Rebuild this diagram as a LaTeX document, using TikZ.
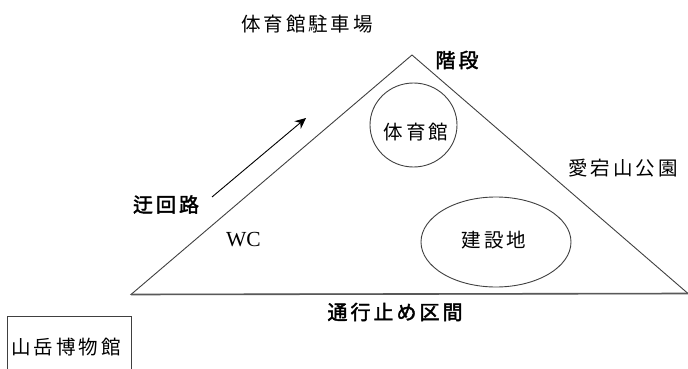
\documentclass[tikz,border=0pt]{standalone}
\usepackage{fontspec}
\usetikzlibrary{shapes.geometric,arrows.meta}
\setmainfont{Liberation Serif}
\newfontfamily\cjk{Noto Sans CJK JP}[LetterSpace=15]
\newfontfamily\cjkb{Noto Sans CJK JP}[FakeBold=2,LetterSpace=15]
\tikzset{
 px/.style={x=1pt,y=-1pt},
 line/.style={draw=black!75,line width=0.9pt},
 lab/.style={inner sep=0pt,font=\cjk\fontsize{19.5}{22}\selectfont},
 blab/.style={inner sep=0pt,font=\cjkb\fontsize{20}{23}\selectfont}
}
\begin{document}
\begin{tikzpicture}[px]
\useasboundingbox (0,0) rectangle (688,369);
\coordinate (apex) at (412,55);
\coordinate (bl) at (131,294.5);
\coordinate (br) at (688,293.5);
\draw[line] (bl) -- (apex) -- (br) -- cycle;
\draw[draw=black!65,line width=1.6pt] (bl) -- (br);
\node[line,ellipse,minimum width=87pt,minimum height=84pt,inner sep=0pt] (gym) at (413.5,125) {};
\node[lab] (gymt) at (416,132) {体育館};
\node[line,ellipse,minimum width=150pt,minimum height=90pt,inner sep=0pt] (site) at (496,242) {};
\node[lab] (sitet) at (494,240) {建設地};
\coordinate (a1) at (212,197);
\coordinate (a2) at (306,118);
\draw[draw=black,line width=0.9pt,-{Stealth[length=11pt,width=10pt]}] (a1) -- (a2);
\node[lab] (p) at (307,24.5) {体育館駐車場};
\node[blab] (k) at (457,60) {階段};
\node[lab] (a) at (623,168) {愛宕山公園};
\node[blab] (u) at (166,204.5) {迂回路};
\node[inner sep=0pt,font=\fontsize{21.5}{22}\selectfont] (wc) at (243.5,240) {WC};
\node[blab] (t) at (395,312) {通行止め区間};
\node[line,inner sep=0pt,minimum width=124pt,minimum height=62pt] (m) at (69.5,347) {};
\node[lab] (mt) at (66,347) {山岳博物館};
\end{tikzpicture}
\end{document}
